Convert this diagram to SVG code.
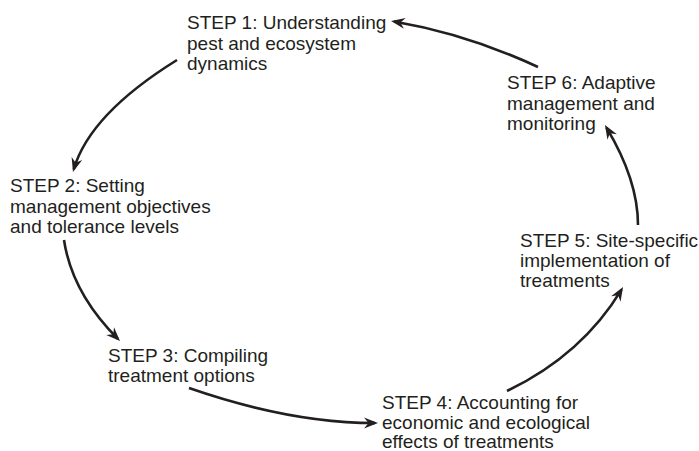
<svg xmlns="http://www.w3.org/2000/svg" width="699" height="451" viewBox="0 0 699 451">
<style>
.t{font-family:"Liberation Sans",Arial,sans-serif;font-size:19px;fill:#231f20}
.c{fill:none;stroke:#231f20;stroke-width:2.6}
</style>
<defs>
<marker id="ah" markerUnits="userSpaceOnUse" markerWidth="20" markerHeight="20" viewBox="-16 -8 20 16" refX="-3" refY="0" orient="auto">
<path d="M0,0 L-14,-5.5 L-9.5,0 L-14,5.5 Z" fill="#231f20"/>
</marker>
</defs>
<rect width="699" height="451" fill="#fff"/>
<g id="connectors">
<path class="c" d="M538,67 Q467,34 394,21.5" marker-end="url(#ah)"/>
<path class="c" d="M177,60 Q90,114 73.8,169.1" marker-end="url(#ah)"/>
<path class="c" d="M64,240 Q72,293 117.9,338.9" marker-end="url(#ah)"/>
<path class="c" d="M189,388 Q290,423 375,423" marker-end="url(#ah)"/>
<path class="c" d="M507,391 Q582,355 621.5,289.6" marker-end="url(#ah)"/>
<path class="c" d="M638,225 Q638,180 606.5,127.6" marker-end="url(#ah)"/>
</g>
<g id="step1"><text class="t" x="187" y="29">STEP 1: Understanding</text><text class="t" x="187" y="49.5">pest and ecosystem</text><text class="t" x="187" y="70">dynamics</text></g>
<g id="step2"><text class="t" x="10" y="192">STEP 2: Setting</text><text class="t" x="10" y="212.5">management objectives</text><text class="t" x="10" y="233">and tolerance levels</text></g>
<g id="step3"><text class="t" x="108" y="361.5">STEP 3: Compiling</text><text class="t" x="108" y="382">treatment options</text></g>
<g id="step4"><text class="t" x="382" y="408.5">STEP 4: Accounting for</text><text class="t" x="382" y="428.5">economic and ecological</text><text class="t" x="382" y="447.5">effects of treatments</text></g>
<g id="step5"><text class="t" x="520" y="247">STEP 5: Site-specific</text><text class="t" x="520" y="267">implementation of</text><text class="t" x="520" y="287">treatments</text></g>
<g id="step6"><text class="t" x="507" y="89">STEP 6: Adaptive</text><text class="t" x="507" y="109.5">management and</text><text class="t" x="507" y="130">monitoring</text></g>
</svg>
